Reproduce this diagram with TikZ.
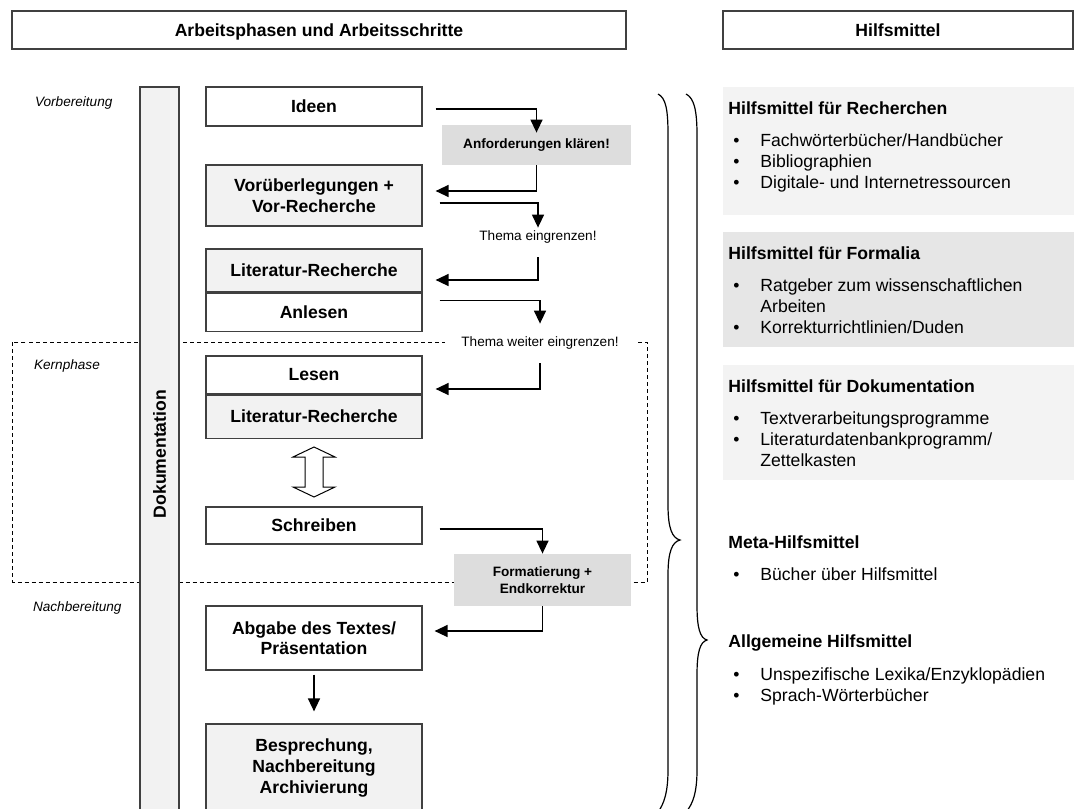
\documentclass[tikz,border=0pt]{standalone}
\usepackage{fontspec}
\setmainfont{Liberation Sans}
\usetikzlibrary{positioning,arrows.meta}
\definecolor{boxgray}{HTML}{F2F2F2}
\definecolor{hintgray}{HTML}{DDDDDD}
\definecolor{panelgray}{HTML}{F3F3F3}
\definecolor{panelmid}{HTML}{E6E6E6}
\newcommand{\bigfont}{\fontsize{8.8pt}{10.3pt}\selectfont}
\newcommand{\smallfont}{\fontsize{6.8pt}{8.5pt}\selectfont}
\newcommand{\listfont}{\fontsize{8.8pt}{10.5pt}\selectfont}

\begin{document}
\begin{tikzpicture}
    [x=0.5pt, y=-0.5pt,
     stepbox/.style = {draw=black!75, line width=0.6pt, minimum width=108pt, align=center, font=\bfseries\bigfont},
     graybox/.style = {stepbox, fill=boxgray},
     hint/.style = {fill=hintgray, align=center, font=\bfseries\smallfont},
     thema/.style = {fill=white, font=\smallfont, minimum height=9pt, inner sep=0pt},
     phase/.style = {anchor=west, font=\itshape\smallfont},
     header/.style = {draw=black!75, line width=0.6pt, minimum height=19pt, text depth=0pt, font=\bfseries\bigfont},
     grouptitle/.style = {anchor=base west, font=\bfseries\bigfont, inner sep=0pt},
     grouplist/.style = {anchor=base west, font=\listfont, inner sep=0pt},
     flow/.style = {-{Triangle[length=6.5pt,width=6pt]}, line width=0.7pt},
     brace/.style = {line width=0.6pt}]
    \useasboundingbox (0,0) rectangle (1074,808);
    \clip (0,0) rectangle (1074,808);

    \node[header, minimum width=307pt] (hdrleft) at (319,30) {Arbeitsphasen und Arbeitsschritte};
    \node[header, minimum width=175pt] (hdrright) at (898,30) {Hilfsmittel};

    \draw[dash pattern=on 2pt off 1.5pt, line width=0.4pt] (12.5,342) rectangle (647,582);

    \node[phase] (vorb) at (28,103) {Vorbereitung};
    \node[phase] (kern) at (27,366) {Kernphase};
    \node[phase] (nachb) at (26,608) {Nachbereitung};

    \node[graybox, rotate=90, minimum width=367pt, minimum height=19.5pt] (doku) at (159.5,454) {Dokumentation};

    \node[stepbox, minimum height=19.5pt] (ideen) at (314,106.5) {Ideen};
    \node[graybox, minimum height=30.5pt] (vorueb) at (314,195.5) {Vorüberlegungen +\\Vor-Recherche};
    \node[graybox, minimum height=21.5pt] (litrech1) at (314,270.5) {Literatur-Recherche};
    \node[stepbox, minimum height=19pt, below=0pt of litrech1] (anlesen) {Anlesen};
    \node[stepbox, minimum height=19pt] (lesen) at (314,375) {Lesen};
    \node[graybox, minimum height=21.5pt, below=0pt of lesen] (litrech2) {Literatur-Recherche};
    \node[stepbox, minimum height=18.5pt] (schreiben) at (314,525.5) {Schreiben};
    \node[stepbox, minimum height=32pt] (abgabe) at (314,638) {Abgabe des Textes/\\Präsentation};
    \node[graybox, minimum height=44pt] (bespr) at (314,768) {Besprechung,\\Nachbereitung\\Archivierung};

    \node[hint, minimum width=94.5pt, minimum height=20pt] (anford) at (536.5,145) {Anforderungen klären!};
    \node[hint, minimum width=88.5pt, minimum height=26pt] (format) at (542.5,580) {Formatierung +\\Endkorrektur};
    \node[thema] (thema1) at (538,237) {Thema eingrenzen!};
    \node[thema, minimum width=95pt] (thema2) at (540,343) {Thema weiter eingrenzen!};

    \draw[flow] ([xshift=6.5pt,yshift=-1.25pt]ideen.east) -| ([yshift=-4pt]anford.north);
    \draw[flow] (anford.south) |- ([xshift=6.5pt,yshift=2.25pt]vorueb.east);
    \draw[flow] ([xshift=8.5pt,yshift=-3.75pt]vorueb.east) -| (thema1.north);
    \draw[flow] ([yshift=-5.5pt]thema1.south) |- ([xshift=6.5pt,yshift=-4.75pt]litrech1.east);
    \draw[flow] ([xshift=8.5pt,yshift=6pt]anlesen.east) -| ([yshift=5pt]thema2.north);
    \draw[flow] ([yshift=-5.5pt]thema2.south) |- ([xshift=6.5pt,yshift=-7pt]lesen.east);
    \draw[flow] ([xshift=8.5pt,yshift=-1.75pt]schreiben.east) -| (format.north);
    \draw[flow] (format.south) |- ([xshift=6pt,yshift=3.5pt]abgabe.east);
    \draw[flow] ([yshift=-2pt]abgabe.south) -- ([yshift=6pt]bespr.north);

    \coordinate (swap) at (314,472);
    \draw[line width=0.5pt, fill=white] ([yshift=12.5pt]swap) -- ([shift={(-10.5pt,7.5pt)}]swap) -- ([shift={(-4.5pt,7.5pt)}]swap)
        -- ([shift={(-4.5pt,-7.5pt)}]swap) -- ([shift={(-10.5pt,-7.5pt)}]swap) -- ([yshift=-12.5pt]swap)
        -- ([shift={(10.5pt,-7.5pt)}]swap) -- ([shift={(4.5pt,-7.5pt)}]swap) -- ([shift={(4.5pt,7.5pt)}]swap)
        -- ([shift={(10.5pt,7.5pt)}]swap) -- cycle;

    \draw[brace] (658,94) .. controls (666,98) and (668,110) .. (668,135) -- (668,505)
        .. controls (668,528) and (672,538) .. (680,540) .. controls (672,542) and (668,552) .. (668,575)
        -- (668,770) .. controls (668,792) and (664,804) .. (658,812);
    \draw[brace] (686,94) .. controls (694,98) and (697,110) .. (697,135) -- (697,605)
        .. controls (697,628) and (700,638) .. (707,640) .. controls (700,642) and (697,652) .. (697,675)
        -- (697,770) .. controls (697,792) and (693,804) .. (686,812);

    \fill[panelgray] (723,87) rectangle (1074,215);
    \fill[panelmid] (723,232) rectangle (1074,347);
    \fill[panelgray] (723,365) rectangle (1074,480);

    \node[grouptitle] (rechtitle) at (728,114) {Hilfsmittel für Recherchen};
    \node[grouplist] (rechlist) at (733,146) {\begin{tabular}[t]{@{}p{13.5pt}@{}l@{}}
        \textbullet & Fachwörterbücher/Handbücher\\
        \textbullet & Bibliographien\\
        \textbullet & Digitale- und Internetressourcen\end{tabular}};
    \node[grouptitle] (formtitle) at (728,259) {Hilfsmittel für Formalia};
    \node[grouplist] (formlist) at (733,291) {\begin{tabular}[t]{@{}p{13.5pt}@{}l@{}}
        \textbullet & Ratgeber zum wissenschaftlichen\\
                    & Arbeiten\\
        \textbullet & Korrekturrichtlinien/Duden\end{tabular}};
    \node[grouptitle] (dokutitle) at (728,392) {Hilfsmittel für Dokumentation};
    \node[grouplist] (dokulist) at (733,424) {\begin{tabular}[t]{@{}p{13.5pt}@{}l@{}}
        \textbullet & Textverarbeitungsprogramme\\
        \textbullet & Literaturdatenbankprogramm/\\
                    & Zettelkasten\end{tabular}};
    \node[grouptitle] (metatitle) at (728,548) {Meta-Hilfsmittel};
    \node[grouplist] (metalist) at (733,580) {\begin{tabular}[t]{@{}p{13.5pt}@{}l@{}}
        \textbullet & Bücher über Hilfsmittel\end{tabular}};
    \node[grouptitle] (allgtitle) at (728,647) {Allgemeine Hilfsmittel};
    \node[grouplist] (allglist) at (733,680) {\begin{tabular}[t]{@{}p{13.5pt}@{}l@{}}
        \textbullet & Unspezifische Lexika/Enzyklopädien\\
        \textbullet & Sprach-Wörterbücher\end{tabular}};
\end{tikzpicture}
\end{document}
